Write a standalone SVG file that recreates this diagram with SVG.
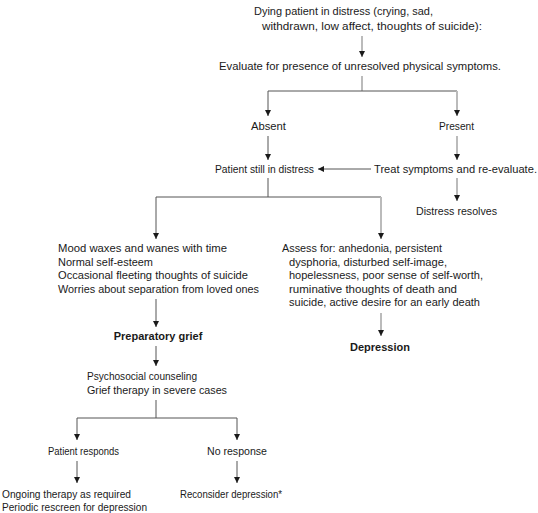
<svg xmlns="http://www.w3.org/2000/svg" width="538" height="513" viewBox="0 0 538 513">
<defs>
<marker id="ah" markerUnits="userSpaceOnUse" markerWidth="6" markerHeight="7" viewBox="0 0 6 6" refX="6" refY="3" orient="auto">
<path d="M0,0 L6,3 L0,6 z" fill="#1a1a1a"/>
</marker>
<style>
text{font-family:"Liberation Sans",Arial,sans-serif;font-size:10.6px;fill:#1a1a1a}
.b{font-weight:bold;font-size:11px}
.m{text-anchor:middle}
.d{stroke:#555;stroke-width:1;fill:none}
.g{stroke:#bbb;stroke-width:2;fill:none}
.a{marker-end:url(#ah)}
</style>
</defs>
<rect width="538" height="513" fill="#fff"/>
<g id="connectors">
<line class="g a" x1="362" y1="36" x2="362" y2="57"/>
<line class="g" x1="362" y1="76" x2="362" y2="91"/>
<polyline class="d a" points="362,91 268,91 268,116"/>
<polyline class="d" points="362,91 457,91"/>
<line class="g a" x1="457" y1="91" x2="457" y2="116"/>
<line class="d a" x1="268" y1="136" x2="268" y2="160"/>
<line class="g a" x1="457" y1="136" x2="457" y2="160"/>
<line class="d a" x1="371" y1="169" x2="318" y2="169"/>
<line class="g a" x1="457" y1="178" x2="457" y2="201"/>
<line class="d" x1="268" y1="178" x2="268" y2="197"/>
<polyline class="d a" points="268,197 156,197 156,239"/>
<polyline class="d" points="268,197 381,197"/>
<line class="g a" x1="381" y1="197" x2="381" y2="239"/>
<line class="d a" x1="156" y1="299" x2="156" y2="327"/>
<line class="g a" x1="381" y1="313" x2="381" y2="336"/>
<line class="d a" x1="156" y1="346" x2="156" y2="366"/>
<line class="d" x1="156" y1="400" x2="156" y2="418"/>
<polyline class="d a" points="156,418 77,418 77,440"/>
<polyline class="d a" points="156,418 237,418 237,440"/>
<line class="d a" x1="77" y1="461" x2="77" y2="483"/>
<line class="d a" x1="237" y1="461" x2="237" y2="483"/>
</g>
<g id="start"><text x="254" y="15" textLength="179" lengthAdjust="spacingAndGlyphs">Dying patient in distress (crying, sad,</text><text x="262" y="30" textLength="220" lengthAdjust="spacingAndGlyphs">withdrawn, low affect, thoughts of suicide):</text></g>
<g id="evaluate"><text x="219" y="70" textLength="282" lengthAdjust="spacingAndGlyphs">Evaluate for presence of unresolved physical symptoms.</text></g>
<g id="absent"><text x="251" y="130" textLength="35" lengthAdjust="spacingAndGlyphs">Absent</text></g>
<g id="present"><text x="439" y="130" textLength="35" lengthAdjust="spacingAndGlyphs">Present</text></g>
<g id="still-distress"><text x="215" y="173" textLength="99" lengthAdjust="spacingAndGlyphs">Patient still in distress</text></g>
<g id="treat"><text x="374" y="173" textLength="163" lengthAdjust="spacingAndGlyphs">Treat symptoms and re-evaluate.</text></g>
<g id="resolves"><text x="416" y="215" textLength="81" lengthAdjust="spacingAndGlyphs">Distress resolves</text></g>
<g id="mood"><text x="58" y="252" textLength="169" lengthAdjust="spacingAndGlyphs">Mood waxes and wanes with time</text><text x="58" y="265.5" textLength="95" lengthAdjust="spacingAndGlyphs">Normal self-esteem</text><text x="58" y="279" textLength="190" lengthAdjust="spacingAndGlyphs">Occasional fleeting thoughts of suicide</text><text x="58" y="292.5" textLength="201" lengthAdjust="spacingAndGlyphs">Worries about separation from loved ones</text></g>
<g id="assess"><text x="282" y="252" textLength="160" lengthAdjust="spacingAndGlyphs">Assess for: anhedonia, persistent</text><text x="289" y="265.5" textLength="158" lengthAdjust="spacingAndGlyphs">dysphoria, disturbed self-image,</text><text x="289" y="279" textLength="194" lengthAdjust="spacingAndGlyphs">hopelessness, poor sense of self-worth,</text><text x="289" y="292.5" textLength="168" lengthAdjust="spacingAndGlyphs">ruminative thoughts of death and</text><text x="289" y="306" textLength="191" lengthAdjust="spacingAndGlyphs">suicide, active desire for an early death</text></g>
<g id="grief"><text class="b m" x="158" y="340">Preparatory grief</text></g>
<g id="depression"><text class="b m" x="380" y="351">Depression</text></g>
<g id="counseling"><text x="87" y="380" textLength="110" lengthAdjust="spacingAndGlyphs">Psychosocial counseling</text><text x="87" y="393.5" textLength="140" lengthAdjust="spacingAndGlyphs">Grief therapy in severe cases</text></g>
<g id="responds"><text x="48" y="455" textLength="71" lengthAdjust="spacingAndGlyphs">Patient responds</text></g>
<g id="noresponse"><text x="207" y="455" textLength="60" lengthAdjust="spacingAndGlyphs">No response</text></g>
<g id="ongoing"><text x="2" y="498" textLength="129" lengthAdjust="spacingAndGlyphs">Ongoing therapy as required</text><text x="2" y="511" textLength="145" lengthAdjust="spacingAndGlyphs">Periodic rescreen for depression</text></g>
<g id="reconsider"><text x="180" y="498" textLength="102" lengthAdjust="spacingAndGlyphs">Reconsider depression*</text></g>
</svg>
